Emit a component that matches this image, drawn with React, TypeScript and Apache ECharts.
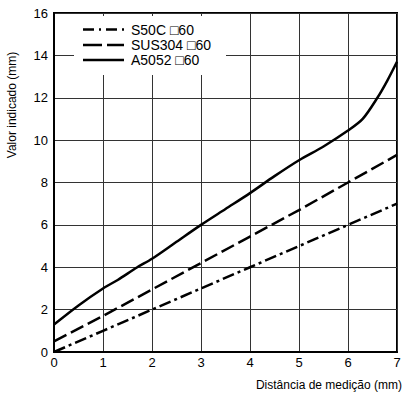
import React, { useEffect, useRef } from "react";
import * as echarts from "echarts";

const xTicks = [0, 1, 2, 3, 4, 5, 6, 7];
const yTicks = [0, 2, 4, 6, 8, 10, 12, 14, 16];
const seriesNames = ["S50C \u25A160", "SUS304 \u25A160", "A5052 \u25A160"];

const s50cX = [0, 1, 2, 3, 4, 5, 6, 7];
const s50cY = [0, 1.0, 2.0, 3.0, 4.0, 5.0, 6.0, 7.0];
const sus304X = [0, 1, 2, 3, 4, 5, 6, 7];
const sus304Y = [0.5, 1.7, 2.95, 4.2, 5.45, 6.7, 8.0, 9.3];
const a5052X = [0, 0.5, 1, 1.3, 1.7, 2, 2.5, 3, 3.5, 4, 4.5, 5, 5.5, 6, 6.3, 6.6, 6.8, 7];
const a5052Y = [1.3, 2.2, 3.0, 3.4, 4.0, 4.4, 5.2, 6.0, 6.75, 7.5, 8.3, 9.05, 9.7, 10.45, 11.0, 12.0, 12.8, 13.7];

const zip = (xs: number[], ys: number[]) => xs.map((x, i) => [x, ys[i]]);

const FONT = "'Liberation Sans', Arial, sans-serif";
const dashes = [[12, 4, 3, 4], [14, 5], []];
const legendDashes = [[11, 5, 2, 5], [19, 5], []];

export default function App() {
  const ref = useRef<HTMLDivElement>(null);
  useEffect(() => {
    if (!ref.current) return;
    const chart = echarts.init(ref.current, undefined, { renderer: "svg" });
    const lineBase = { color: "#000", width: 2.5 };
    const legendRows = [29.5, 45, 60];
    const legendGraphics: any[] = [
      { type: "rect", z: 10, shape: { x: 74, y: 16, width: 152, height: 59 }, style: { fill: "#fff" } },
    ];
    seriesNames.forEach((name, i) => {
      legendGraphics.push({
        type: "line",
        z: 11,
        shape: { x1: 83, y1: legendRows[i], x2: 124, y2: legendRows[i] },
        style: { stroke: "#000", lineWidth: 2.5, lineDash: legendDashes[i].length ? legendDashes[i] : null },
      });
      legendGraphics.push({
        type: "text",
        z: 11,
        x: 131,
        y: legendRows[i],
        style: { text: name, fill: "#000", font: `14px ${FONT}`, verticalAlign: "middle" },
      });
    });
    chart.setOption({
      animation: false,
      backgroundColor: "#fff",
      textStyle: { fontFamily: FONT },
      grid: {
        left: 54,
        right: 7,
        top: 13,
        bottom: 51,
        show: true,
        borderColor: "#000",
        borderWidth: 2,
      },
      xAxis: {
        type: "value",
        min: 0,
        max: 7,
        interval: 1,
        axisLine: { show: true, lineStyle: { color: "#000", width: 2 } },
        axisTick: { show: false },
        axisLabel: { color: "#000", fontSize: 13, margin: 4, fontFamily: FONT, formatter: (v: number) => (xTicks.includes(v) ? String(v) : "") },
        splitLine: { show: true, lineStyle: { color: "#333", width: 1 } },
      },
      yAxis: {
        type: "value",
        min: 0,
        max: 16,
        interval: 2,
        axisLine: { show: true, lineStyle: { color: "#000", width: 2 } },
        axisTick: { show: false },
        axisLabel: { color: "#000", fontSize: 13, margin: 6, fontFamily: FONT, formatter: (v: number) => (yTicks.includes(v) ? String(v) : "") },
        splitLine: { show: true, lineStyle: { color: "#333", width: 1 } },
      },
      graphic: [
        ...legendGraphics,
        {
          type: "text",
          x: 12,
          y: 105,
          rotation: Math.PI / 2,
          style: {
            text: "Valor indicado (mm)",
            fill: "#000",
            font: `12px ${FONT}`,
            align: "center",
            verticalAlign: "middle",
          },
        },
        {
          type: "text",
          x: 402,
          y: 385,
          style: {
            text: "Dist\u00e2ncia de medi\u00e7\u00e3o (mm)",
            fill: "#000",
            font: `12px ${FONT}`,
            align: "right",
            verticalAlign: "middle",
          },
        },
      ],
      series: [
        {
          name: seriesNames[0],
          type: "line",
          symbol: "none",
          data: zip(s50cX, s50cY),
          lineStyle: { ...lineBase, type: dashes[0] },
        },
        {
          name: seriesNames[1],
          type: "line",
          symbol: "none",
          data: zip(sus304X, sus304Y),
          lineStyle: { ...lineBase, type: dashes[1] },
        },
        {
          name: seriesNames[2],
          type: "line",
          symbol: "none",
          smooth: 0.3,
          data: zip(a5052X, a5052Y),
          lineStyle: { ...lineBase },
        },
      ],
    });
    return () => chart.dispose();
  }, []);
  return <div ref={ref} style={{ width: 404, height: 403, position: "absolute", left: 0, top: 0 }} />;
}
